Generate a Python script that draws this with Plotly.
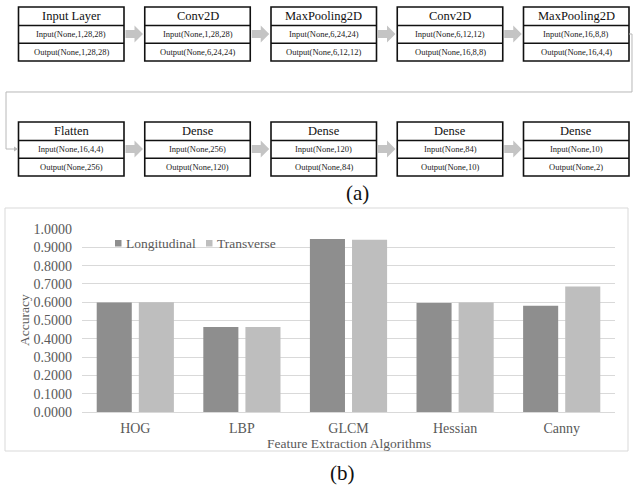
import plotly.graph_objects as go

W, H = 633, 485

# ---- CNN layer stack (diagram a) ----
layer_names = ["Input Layer", "Conv2D", "MaxPooling2D", "Conv2D", "MaxPooling2D",
               "Flatten", "Dense", "Dense", "Dense", "Dense"]
layer_inputs = ["Input(None,1,28,28)", "Input(None,1,28,28)", "Input(None,6,24,24)",
                "Input(None,6,12,12)", "Input(None,16,8,8)",
                "Input(None,16,4,4)", "Input(None,256)", "Input(None,120)",
                "Input(None,84)", "Input(None,10)"]
layer_outputs = ["Output(None,1,28,28)", "Output(None,6,24,24)", "Output(None,6,12,12)",
                 "Output(None,16,8,8)", "Output(None,16,4,4)",
                 "Output(None,256)", "Output(None,120)", "Output(None,84)",
                 "Output(None,10)", "Output(None,2)"]

# ---- accuracy per feature extractor (chart b) ----
algorithms = ["HOG", "LBP", "GLCM", "Hessian", "Canny"]
longitudinal = [0.598, 0.465, 0.946, 0.595, 0.580]
transverse = [0.600, 0.465, 0.941, 0.598, 0.686]
y_ticks = [0.0, 0.1, 0.2, 0.3, 0.4, 0.5, 0.6, 0.7, 0.8, 0.9, 1.0]

SERIF = "Liberation Serif"
TXT = "#595959"


def fx(x):
    return x / W


def fy(y):
    return 1 - y / H


shapes = []
annotations = []

# layer boxes: two rows of five
BOX_X0, BOX_STEP, BOX_W = 18.5, 126.25, 105.5
ROW_TOPS = [7, 122]
TITLE_H, IO_H = 18.5, 17.75
ARROW_GRAY = "#c4c4c4"

for i, name in enumerate(layer_names):
    row, col = divmod(i, 5)
    x0 = BOX_X0 + col * BOX_STEP
    x1 = x0 + BOX_W
    top = ROW_TOPS[row]
    y1 = top + TITLE_H
    y2 = y1 + IO_H
    bot = y2 + IO_H
    shapes.append(dict(type="rect", xref="paper", yref="paper",
                       x0=fx(x0), x1=fx(x1), y0=fy(bot), y1=fy(top),
                       line=dict(color="#111111", width=1.6), fillcolor="white", layer="above"))
    for yy in (y1, y2):
        shapes.append(dict(type="line", xref="paper", yref="paper",
                           x0=fx(x0), x1=fx(x1), y0=fy(yy), y1=fy(yy),
                           line=dict(color="#111111", width=1.4)))
    xc = (x0 + x1) / 2
    annotations.append(dict(x=fx(xc), y=fy((top + y1) / 2), xref="paper", yref="paper",
                            text=name, showarrow=False, xanchor="center", yanchor="middle",
                            font=dict(family=SERIF, size=12.5, color="#111111")))
    annotations.append(dict(x=fx(xc), y=fy((y1 + y2) / 2), xref="paper", yref="paper",
                            text=layer_inputs[i], showarrow=False, xanchor="center", yanchor="middle",
                            font=dict(family=SERIF, size=8.5, color="#222222")))
    annotations.append(dict(x=fx(xc), y=fy((y2 + bot) / 2), xref="paper", yref="paper",
                            text=layer_outputs[i], showarrow=False, xanchor="center", yanchor="middle",
                            font=dict(family=SERIF, size=8.5, color="#222222")))

    # block arrow to the next box in the same row
    if col < 4:
        ax0 = x1 + 1.5
        ax1 = ax0 + 9
        ax2 = ax0 + 17.5
        yc = (top + bot) / 2
        pts = [(ax0, yc - 4), (ax1, yc - 4), (ax1, yc - 8.5), (ax2, yc),
               (ax1, yc + 8.5), (ax1, yc + 4), (ax0, yc + 4)]
        path = "M " + " L ".join(f"{fx(px):.5f},{fy(py):.5f}" for px, py in pts) + " Z"
        shapes.append(dict(type="path", xref="paper", yref="paper", path=path,
                           fillcolor=ARROW_GRAY, line=dict(width=0)))

# connector from the end of row one back to the start of row two
row1_mid = ROW_TOPS[0] + (TITLE_H + 2 * IO_H) / 2
row2_mid = ROW_TOPS[1] + (TITLE_H + 2 * IO_H) / 2
last_x1 = BOX_X0 + 4 * BOX_STEP + BOX_W
conn = [(last_x1, row1_mid), (632, row1_mid), (632, 92), (6, 92), (6, row2_mid), (16, row2_mid)]
path = "M " + " L ".join(f"{fx(px):.5f},{fy(py):.5f}" for px, py in conn)
shapes.append(dict(type="path", xref="paper", yref="paper", path=path,
                   line=dict(color="#b8b8b8", width=1)))
tip = [(14, row2_mid - 2.5), (18, row2_mid), (14, row2_mid + 2.5)]
shapes.append(dict(type="path", xref="paper", yref="paper",
                   path="M " + " L ".join(f"{fx(px):.5f},{fy(py):.5f}" for px, py in tip) + " Z",
                   fillcolor="#b8b8b8", line=dict(width=0)))

annotations.append(dict(x=fx(357), y=fy(193), xref="paper", yref="paper", text="(a)",
                        showarrow=False, xanchor="center", yanchor="middle",
                        font=dict(family=SERIF, size=21, color="#111111")))

# ---- chart b ----
PLOT_L, PLOT_R, PLOT_T, PLOT_B = 82, 615, 229, 412

# panel frame
shapes.append(dict(type="rect", xref="paper", yref="paper",
                   x0=fx(5), x1=fx(628), y0=fy(451), y1=fy(208),
                   line=dict(color="#d9d9d9", width=1), layer="below"))

fig = go.Figure()
fig.add_trace(go.Bar(x=algorithms, y=longitudinal, name="Longitudinal",
                     marker=dict(color="#8e8e8e", line=dict(width=0)), showlegend=False))
fig.add_trace(go.Bar(x=algorithms, y=transverse, name="Transverse",
                     marker=dict(color="#bebebe", line=dict(width=0)), showlegend=False))

# legend drawn inside the plot area
legend_items = [("Longitudinal", "#8e8e8e", 115), ("Transverse", "#bebebe", 206)]
for label, color, lx in legend_items:
    shapes.append(dict(type="rect", xref="paper", yref="paper",
                       x0=fx(lx), x1=fx(lx + 6.5), y0=fy(246.5), y1=fy(240),
                       fillcolor=color, line=dict(width=0)))
    annotations.append(dict(x=fx(lx + 8.5), y=fy(243), xref="paper", yref="paper", text=label,
                            showarrow=False, xanchor="left", yanchor="middle",
                            font=dict(family=SERIF, size=13.5, color=TXT)))

annotations.append(dict(x=fx(24), y=fy(320), xref="paper", yref="paper", text="Accuracy",
                        textangle=-90, showarrow=False, xanchor="center", yanchor="middle",
                        font=dict(family=SERIF, size=13.5, color=TXT)))
annotations.append(dict(x=fx((PLOT_L + PLOT_R) / 2), y=fy(443), xref="paper", yref="paper",
                        text="Feature Extraction Algorithms",
                        showarrow=False, xanchor="center", yanchor="middle",
                        font=dict(family=SERIF, size=13.5, color=TXT)))
annotations.append(dict(x=fx(342), y=fy(473), xref="paper", yref="paper", text="(b)",
                        showarrow=False, xanchor="center", yanchor="middle",
                        font=dict(family=SERIF, size=21, color="#111111")))

fig.update_layout(
    width=W, height=H,
    margin=dict(l=0, r=0, t=0, b=0),
    paper_bgcolor="white", plot_bgcolor="white",
    barmode="group", bargap=0.21, bargroupgap=0.167,
    shapes=shapes, annotations=annotations,
    xaxis=dict(domain=[fx(PLOT_L), fx(PLOT_R)], automargin=False,
               showline=False, ticks="", showgrid=False,
               tickfont=dict(family=SERIF, size=14, color=TXT), ticklabelstandoff=6),
    yaxis=dict(domain=[fy(PLOT_B), fy(PLOT_T)], range=[0, 1.0], automargin=False,
               tickvals=y_ticks, ticktext=[f"{v:.4f}" for v in y_ticks],
               showgrid=True, gridcolor="#d9d9d9", gridwidth=1,
               zeroline=True, zerolinecolor="#d9d9d9", zerolinewidth=1,
               showline=False, ticks="",
               tickfont=dict(family=SERIF, size=14, color=TXT), ticklabelstandoff=9),
)

fig.write_html("out.html")
